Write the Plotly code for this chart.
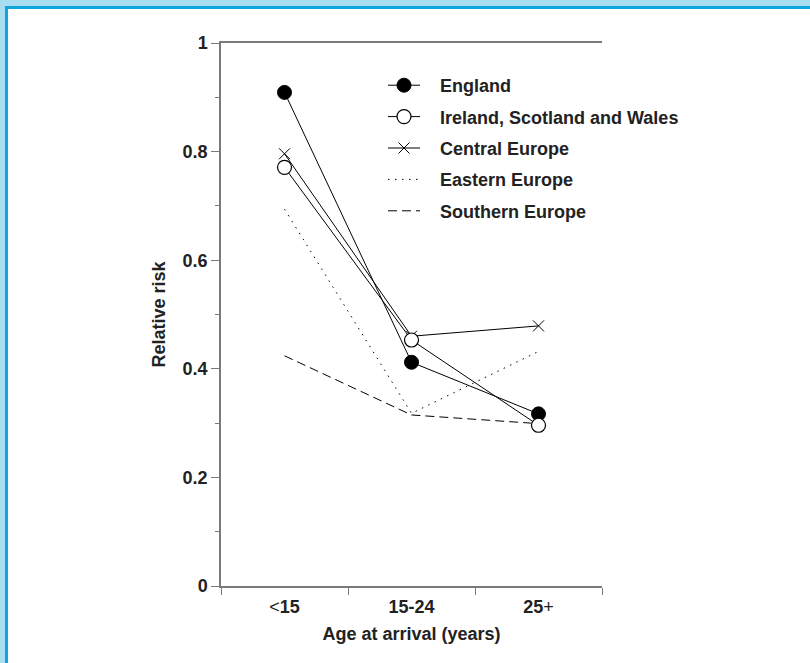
import plotly.graph_objects as go

categories = ["<15", "15-24", "25+"]
tick_labels = ['<span style="font-weight:normal">&lt;</span>15', "15-24",
               '25<span style="font-weight:normal">+</span>']

england = [0.909, 0.412, 0.317]
ireland_scotland_wales = [0.771, 0.453, 0.296]
central_europe = [0.796, 0.460, 0.479]
eastern_europe = [0.694, 0.318, 0.432]
southern_europe = [0.424, 0.315, 0.299]

W, H = 810, 663
ML, MR, MT, MB = 221, 208, 43, 77
PW, PH = W - ML - MR, H - MT - MB

FONT = "Liberation Sans, Arial, sans-serif"
FS = 18
TXT = "#222222"
AX = "#7a7a7a"
PAD = "&nbsp;&nbsp;&nbsp;"

fig = go.Figure()

def add(name, y, mode, marker=None, dash="solid", rank=1):
    fig.add_trace(go.Scatter(
        x=categories, y=y, name=PAD + name, mode=mode,
        line=dict(color="black", width=1, dash=dash),
        marker=marker, legendgroup=name, legendrank=rank,
    ))

# drawing order (bottom to top); legend order set by legendrank
add("Southern Europe", southern_europe, "lines", dash="9px,5px", rank=5)
add("Eastern Europe", eastern_europe, "lines", dash="1.5px,5.5px", rank=4)
add("Central Europe", central_europe, "lines+markers",
    dict(symbol="x-thin-open", size=11, color="black", line=dict(color="black", width=1)), rank=3)
add("England", england, "lines+markers",
    dict(symbol="circle", size=14, color="black", line=dict(color="black", width=1)), rank=1)
add("Ireland, Scotland and Wales", ireland_scotland_wales, "lines+markers",
    dict(symbol="circle", size=14, color="white", line=dict(color="black", width=1.2)), rank=2)

def px_x(p):
    return (p - ML) / PW

def px_y(p):
    return (H - MB - p) / PH

LIGHT = "#a8dcf1"
DARK = "#0ea6dc"
shapes = [
    dict(type="rect", xref="paper", yref="paper", x0=px_x(0), x1=px_x(W), y0=px_y(0), y1=px_y(6),
         fillcolor=LIGHT, line=dict(width=0), layer="below"),
    dict(type="rect", xref="paper", yref="paper", x0=px_x(0), x1=px_x(5), y0=px_y(0), y1=px_y(H),
         fillcolor=LIGHT, line=dict(width=0), layer="below"),
    dict(type="rect", xref="paper", yref="paper", x0=px_x(5), x1=px_x(W), y0=px_y(6), y1=px_y(9),
         fillcolor=DARK, line=dict(width=0), layer="below"),
    dict(type="rect", xref="paper", yref="paper", x0=px_x(5), x1=px_x(8), y0=px_y(6), y1=px_y(H),
         fillcolor=DARK, line=dict(width=0), layer="below"),
]

fig.update_layout(
    width=W, height=H,
    margin=dict(l=ML, r=MR, t=MT, b=MB, pad=0),
    paper_bgcolor="white", plot_bgcolor="white",
    font=dict(family=FONT, size=FS, color=TXT, weight="bold"),
    showlegend=True,
    legend=dict(
        x=px_x(383), y=px_y(67), xanchor="left", yanchor="top",
        bgcolor="rgba(0,0,0,0)", borderwidth=0,
        font=dict(family=FONT, size=FS, color=TXT, weight="bold"),
        traceorder="grouped", tracegroupgap=5, itemwidth=32,
    ),
    shapes=shapes,
    xaxis=dict(
        type="category", range=[-0.5, 2.5],
        tickmode="array", tickvals=categories, ticktext=tick_labels,
        tickson="boundaries", ticks="outside", ticklen=7, tickwidth=1, tickcolor=AX,
        ticklabelstandoff=4,
        showline=True, linecolor=AX, linewidth=1.5, mirror=True,
        showgrid=False, zeroline=False,
        tickfont=dict(family=FONT, size=FS, color=TXT, weight="bold"),
        title=dict(text="Age at arrival (years)", standoff=11,
                   font=dict(family=FONT, size=FS, color=TXT, weight="bold")),
    ),
    yaxis=dict(
        range=[0, 1], tickmode="array", tickvals=[0, 0.2, 0.4, 0.6, 0.8, 1],
        ticktext=["0", "0.2", "0.4", "0.6", "0.8", "1"],
        ticks="outside", ticklen=8, tickwidth=1, tickcolor=AX,
        minor=dict(tickmode="array", tickvals=[0.1, 0.3, 0.5, 0.7, 0.9], ticks="outside",
                   ticklen=4, tickcolor=AX, tickwidth=1, showgrid=False),
        showline=True, linecolor=AX, linewidth=1.5, mirror=False,
        showgrid=False, zeroline=False,
        tickfont=dict(family=FONT, size=FS, color=TXT, weight="bold"),
        title=dict(text="Relative risk", standoff=12,
                   font=dict(family=FONT, size=FS, color=TXT, weight="bold")),
    ),
)

fig.write_html("out.html", config={"displayModeBar": False},
               post_script="document.body.style.margin='0';")
